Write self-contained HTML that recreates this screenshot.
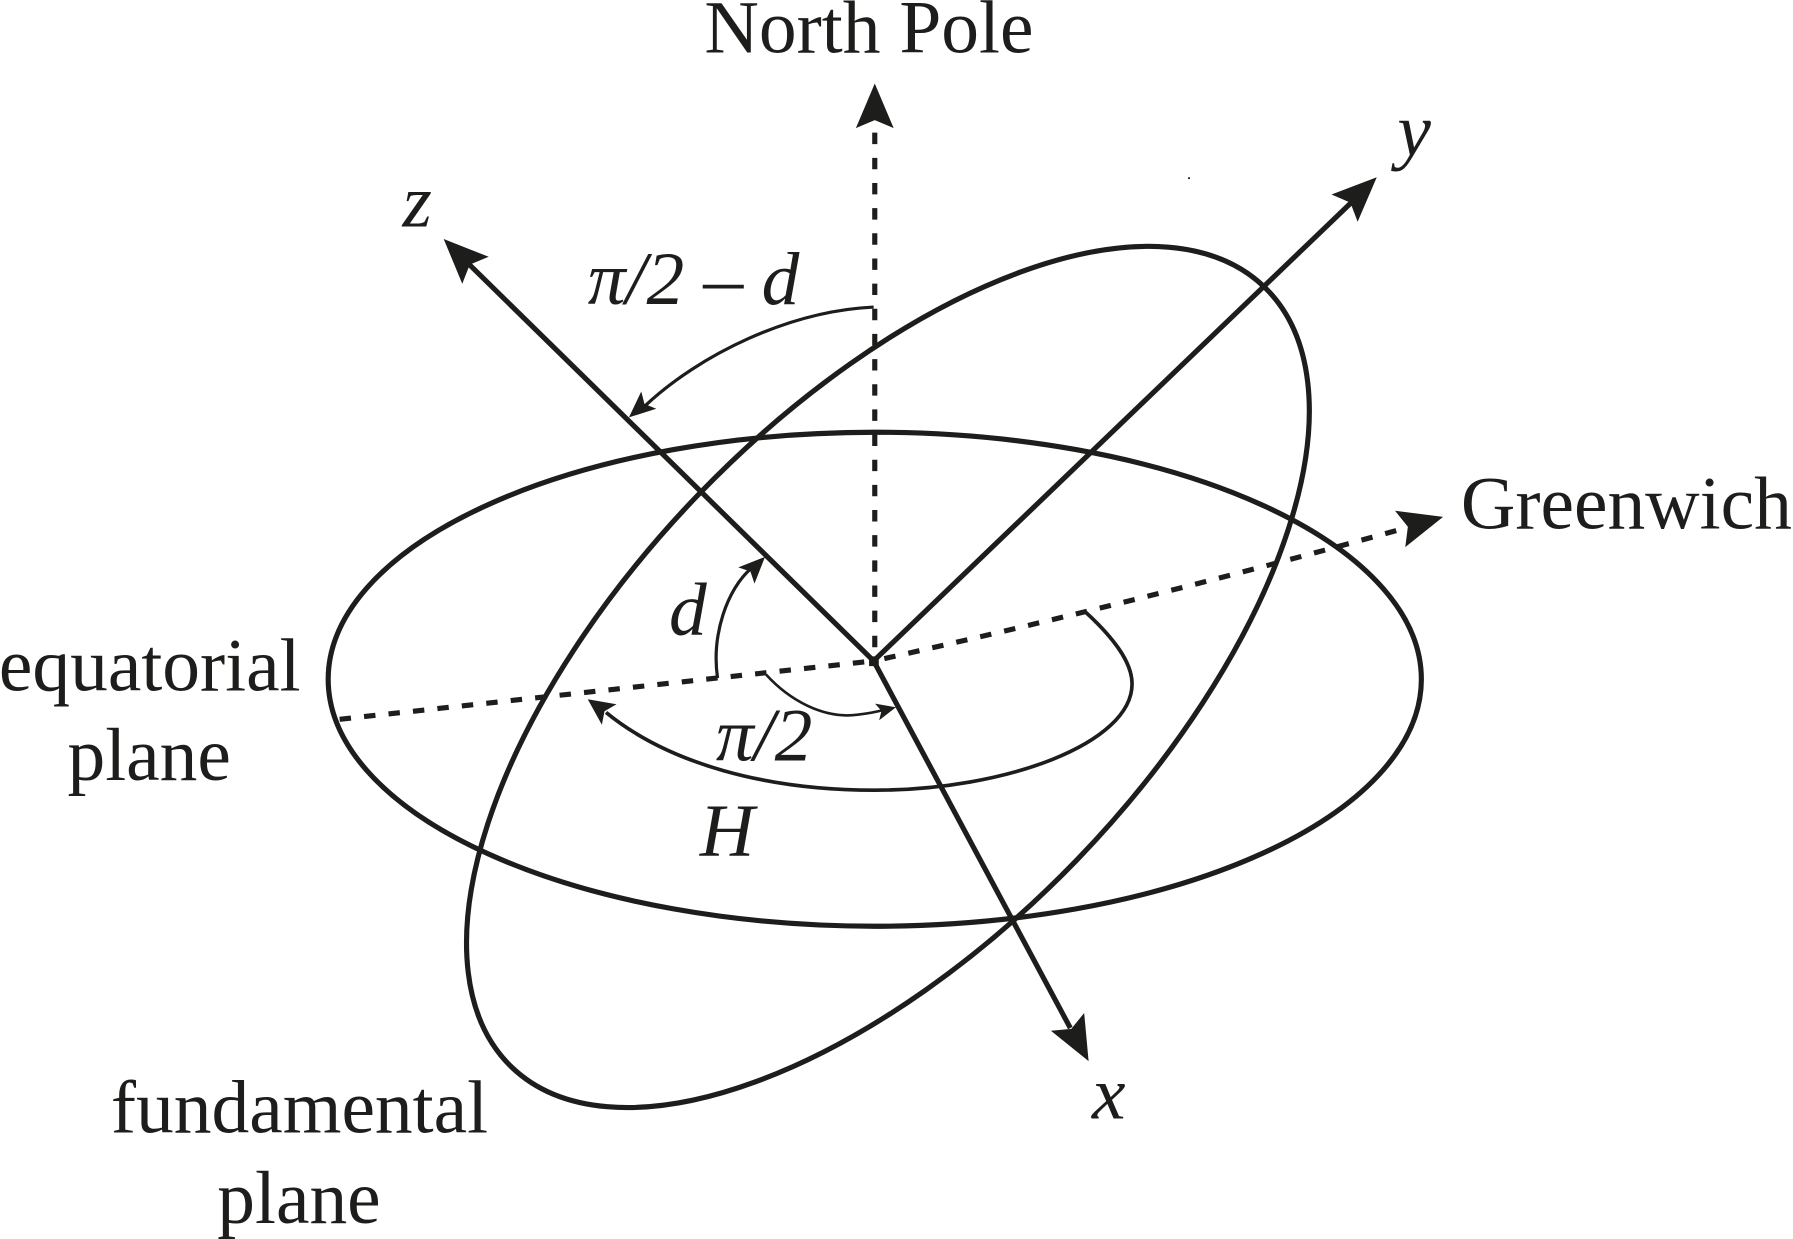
<!DOCTYPE html>
<html>
<head>
<meta charset="utf-8">
<style>
html,body{margin:0;padding:0;background:#fff;width:1793px;height:1239px;overflow:hidden}
svg{display:block}
text{font-family:"Liberation Serif",serif;font-size:66px;fill:#1d1d1b}
.i{font-style:italic}
</style>
</head>
<body>
<svg width="1793" height="1239" viewBox="0 0 1568 1083.5" xmlns="http://www.w3.org/2000/svg">
<g fill="none" stroke="#1d1d1b" stroke-width="4.5">
  <ellipse cx="765" cy="594" rx="478" ry="216"/>
  <ellipse cx="0" cy="0" rx="474" ry="230" transform="translate(776.5,592) rotate(-46)"/>
  <path d="M764,578 L406,227"/>
  <path d="M764,578 L1186,173"/>
  <path d="M764,578 L936,899"/>
  <path d="M765,116 V578" stroke-dasharray="10,12"/>
  <path d="M1221,464 Q994,527 764,578" stroke-dasharray="10,11.5"/>
  <path d="M297,629 L764,578" stroke-dasharray="10,11.5"/>
</g>
<g fill="none" stroke="#1d1d1b">
  <path d="M764,268.500 C690,272 612,310 564,355" stroke-width="2.8"/>
  <path d="M627.500,593 C622,555 636,515 657,497" stroke-width="2.8"/>
  <path d="M670,590 C690,612 720,629 750,625 C758,624 765,623 772,621" stroke-width="2.300"/>
  <path d="M949,535 C972,556 990,578 990,598 C990,650 880,691 765,691 C670,691 585,668 530,623" stroke-width="3.200"/>
</g>
<g fill="#1d1d1b">
  <polygon points="0,0 -39,-16.500 -32,0 -39,16.500" transform="translate(765,73) rotate(-90)"/>
  <polygon points="0,0 -39,-16.500 -32,0 -39,16.500" transform="translate(388,209) rotate(-135.500)"/>
  <polygon points="0,0 -39,-16.500 -32,0 -39,16.500" transform="translate(1204,155) rotate(-43.800)"/>
  <polygon points="0,0 -39,-16.500 -32,0 -39,16.500" transform="translate(952,928) rotate(61.800)"/>
  <polygon points="0,0 -39,-16.500 -32,0 -39,16.500" transform="translate(1262,452) rotate(-15.700)"/>
  <polygon points="0,0 -23,-10 -18,0 -23,10" transform="translate(550,365) rotate(139)"/>
  <polygon points="0,0 -23,-10 -18,0 -23,10" transform="translate(669,487) rotate(-45)"/>
  <polygon points="0,0 -17,-7.500 -13,0 -17,7.500" transform="translate(783.500,618.500) rotate(-14)"/>
  <polygon points="0,0 -23,-11 -18,0 -23,11" transform="translate(514,611.500) rotate(215.500)"/>
  <rect x="760" y="574" width="8.500" height="8.500"/>
  <rect x="1039" y="155" width="1.600" height="1.600"/>
</g>
<text x="616" y="46">North Pole</text>
<text x="1277.500" y="462">Greenwich</text>
<text x="-1" y="604">equatorial</text>
<text x="59" y="682">plane</text>
<text x="97" y="990.500">fundamental</text>
<text x="190" y="1069.500">plane</text>
<text class="i" x="352" y="198">z</text>
<text class="i" x="1222" y="136">y</text>
<text class="i" x="955" y="978">x</text>
<text class="i" x="514" y="266">π/2</text>
<text x="615" y="266" textLength="35" lengthAdjust="spacingAndGlyphs">–</text>
<text class="i" x="666" y="266">d</text>
<text class="i" x="585" y="555">d</text>
<text class="i" x="626" y="665">π/2</text>
<text class="i" x="612" y="748">H</text>
</svg>
</body>
</html>
